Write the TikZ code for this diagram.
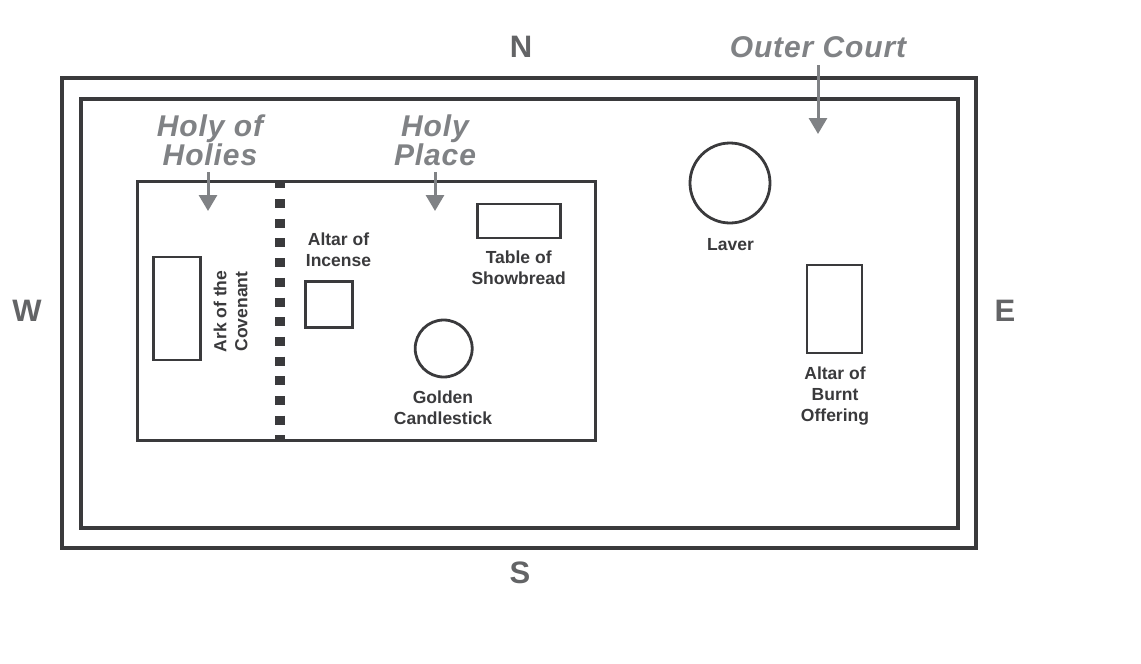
\documentclass[tikz,border=0pt]{standalone}
\usepackage{fontspec}
\setmainfont{Liberation Sans}
\usetikzlibrary{arrows.meta}
\definecolor{wallcol}{HTML}{3A3A3C}
\definecolor{notecol}{HTML}{808285}
\definecolor{compasscol}{HTML}{636466}
\begin{document}
\begin{tikzpicture}[x=1pt,y=-1pt]
\tikzstyle{wall}=[draw=wallcol,line width=3.6pt,inner sep=0pt,outer sep=0pt]
\tikzstyle{item}=[draw=wallcol,line width=2.8pt,inner sep=0pt,outer sep=0pt]
\tikzstyle{round item}=[item,circle]
\tikzstyle{caption}=[text=wallcol,align=center,inner sep=0pt,font=\fontsize{17.5}{21}\selectfont\bfseries]
\tikzstyle{note}=[text=notecol,align=center,inner sep=0pt,font=\fontsize{30}{27}\selectfont\bfseries\itshape\addfontfeature{LetterSpace=3}]
\tikzstyle{compass}=[text=compasscol,inner sep=0pt,font=\fontsize{31}{31}\selectfont\bfseries]
\tikzstyle{pointer}=[draw=notecol,line width=3pt,-{Triangle[width=18pt,length=16pt]}]

\useasboundingbox (0,0) rectangle (1141,664);
\fill[white] (0,0) rectangle (1141,664);

\node (outer) [wall,minimum width=914pt,minimum height=470pt] at (519,313) {};
\node (inner) [wall,minimum width=877pt,minimum height=429pt] at (519.5,313.5) {};
\node (tent)  [wall,minimum width=458pt,minimum height=259pt] at (366.5,311) {};

% veil
\coordinate (veiltop) at (280,181);
\coordinate (veilend) at (280,441);
\draw[wallcol,line width=10pt,dash pattern=on 9pt off 10.7pt,dash phase=1.7pt] (veiltop) -- (veilend);

\node (ark)    [item,minimum width=47pt,minimum height=103pt] at (177,308.5) {};
\node (incense)[item,minimum width=46.5pt,minimum height=46pt] at (329,304.7) {};
\node (table)  [item,minimum width=83pt,minimum height=34pt] at (519,221) {};
\node (lamp)   [round item,minimum size=57pt] at (443.7,348.5) {};
\node (laver)  [round item,minimum size=80pt] at (730,183) {};
\node (burnt)  [item,minimum width=55pt,minimum height=88pt] at (834.5,309) {};

\node (arktext)     [caption,rotate=90] at (230.5,311.5) {Ark of the\\Covenant};
\node (incensetext) [caption] at (338.5,249.5) {Altar of\\Incense};
\node (tabletext)   [caption] at (518.7,268) {Table of\\Showbread};
\node (lamptext)    [caption] at (443,407.5) {Golden\\Candlestick};
\node (lavertext)   [caption] at (730.5,244.5) {Laver};
\node (burnttext)   [caption] at (835,396.5) {Altar of\\Burnt\\Offering};

\node (north) [compass] at (521,47)   {N};
\node (south) [compass] at (520,573)  {S};
\node (west)  [compass] at (27,311)   {W};
\node (east)  [compass] at (1005,311) {E};

\node (holies) [note] at (210,140) {Holy of\\Holies};
\node (place)  [note] at (435,140) {Holy\\Place};
\node (court)  [note] at (818,47)  {Outer Court};

\coordinate (holiesfrom) at (208,172);
\coordinate (holiesto)   at (208,211);
\coordinate (placefrom)  at (435,172);
\coordinate (placeto)    at (435,211);
\coordinate (courtfrom)  at (818,65);
\coordinate (courtto)    at (818,134);

\draw[pointer] (holiesfrom) -- (holiesto);
\draw[pointer] (placefrom)  -- (placeto);
\draw[pointer] (courtfrom)  -- (courtto);
\end{tikzpicture}
\end{document}
